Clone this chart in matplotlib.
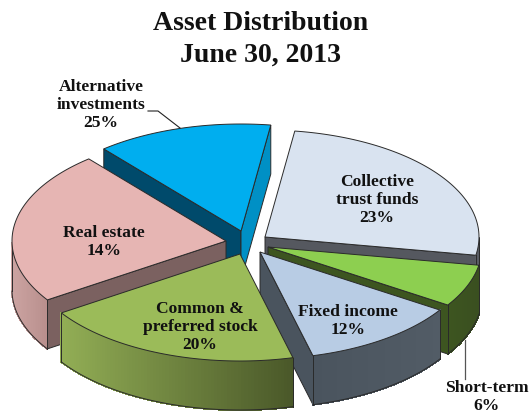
import numpy as np
import matplotlib
matplotlib.use("Agg")
import matplotlib.pyplot as plt
from matplotlib.colors import to_rgb

# slices clockwise from the top right
names = ["Collective\ntrust funds", "Short-term", "Fixed income",
         "Common &\npreferred stock", "Real estate", "Alternative\ninvestments"]
label_pct = [23, 6, 12, 20, 14, 25]
# printed labels do not agree with the drawn slices, so these are read off the slice sizes
slice_shares = [25.5, 6.4, 11.9, 19.7, 23.2, 13.3]
title_lines = ["Asset Distribution", "June 30, 2013"]

# styling / layout
apex = [(265, 237), (268, 247), (260, 252), (240, 254), (226, 241), (241, 231)]
top_colors = ["#D9E3F0", "#8DCF50", "#B8CCE4", "#9BBB59", "#E6B5B3", "#00AEEF"]
start_wall = ["#55585F", "#3D5520", "#4A545E", "#4B5A2A", "#7B6160", "#004A6B"]
end_wall = ["#55585F", "#3D5520", "#4A545E", "#4B5A2A", "#7B6160", "#0090C5"]
arc_left = ["#5A5D64", "#3D5520", "#4A545E", "#92AE55", "#CBA3A1", "#0090C5"]
arc_right = ["#5A5D64", "#3A4F20", "#525C66", "#4A5829", "#B98F8D", "#0090C5"]
label_pos = [(377, 200), (487, 397), (348, 321), (200, 327), (104, 242), (101, 105)]
draw_order = [5, 4, 0, 1, 2, 3]
start_angle = 82
rx, ry = 214, 107
depth = 49
edge = "#2A2A2A"


def mix(c1, c2, t):
    return tuple(a + (b - a) * t for a, b in zip(to_rgb(c1), to_rgb(c2)))


def i_z(i):
    return 2 + draw_order.index(i)


def draw_slice(ax, i, hi, lo):
    x0, y0 = apex[i]
    th = np.radians(np.linspace(hi, lo, 80))
    xs = x0 + rx * np.cos(th)
    ys = y0 - ry * np.sin(th)

    # straight cut walls, only the ones that face the viewer
    for ang, px, py, col, sign in [(hi, xs[0], ys[0], start_wall[i], 90),
                                   (lo, xs[-1], ys[-1], end_wall[i], -90)]:
        if np.sin(np.radians(ang + sign)) < 0:
            ax.fill([x0, px, px, x0], [y0, py, py + depth, y0 + depth],
                    facecolor=col, edgecolor=edge, linewidth=0.7, zorder=i_z(i))

    # outer rim in small strips so it can shade from left to right
    front = np.sin(th) < 0
    if front.any():
        fx, fy = xs[front], ys[front]
        left, right = fx.min(), fx.max()
        for k in range(len(fx) - 1):
            t = (fx[k] - left) / max(right - left, 1)
            col = mix(arc_left[i], arc_right[i], t)
            ax.fill([fx[k], fx[k + 1], fx[k + 1], fx[k]],
                    [fy[k], fy[k + 1], fy[k + 1] + depth, fy[k] + depth],
                    facecolor=col, edgecolor=col, linewidth=0.8,
                    antialiased=False, zorder=i_z(i))
        ax.plot(fx, fy + depth, color=edge, lw=0.7, zorder=i_z(i))
        ax.plot([fx[0], fx[0]], [fy[0], fy[0] + depth], color=edge, lw=0.7, zorder=i_z(i))
        ax.plot([fx[-1], fx[-1]], [fy[-1], fy[-1] + depth], color=edge, lw=0.7, zorder=i_z(i))

    # top surface
    ax.fill(np.r_[x0, xs], np.r_[y0, ys], facecolor=top_colors[i],
            edgecolor=edge, linewidth=0.7, zorder=i_z(i) + 0.5)


fig = plt.figure(figsize=(5.3, 4.15), dpi=100)
ax = fig.add_axes([0, 0, 1, 1])
ax.set_xlim(0, 530)
ax.set_ylim(415, 0)
ax.axis("off")

degrees = 360 * np.array(slice_shares) / sum(slice_shares)
edges = start_angle - np.r_[0, np.cumsum(degrees)]
for i in draw_order:
    draw_slice(ax, i, edges[i], edges[i + 1])

font = dict(family="Liberation Serif", weight="bold", ha="center", va="center",
            color="#111111", zorder=20)
for name, pct, (lx, ly) in zip(names, label_pct, label_pos):
    ax.text(lx, ly, f"{name}\n{pct}%", fontsize=12.6, linespacing=1.2, **font)

for line, ty in zip(title_lines, [23, 55]):
    ax.text(261, ty, line, fontsize=20, **font)

# leader lines
ax.plot([148, 158, 180], [111, 111, 128], color="#222222", lw=0.8, zorder=15)
ax.plot([465, 465], [340, 379], color="#555555", lw=0.9, zorder=15)

fig.savefig("out.png", dpi=100)
